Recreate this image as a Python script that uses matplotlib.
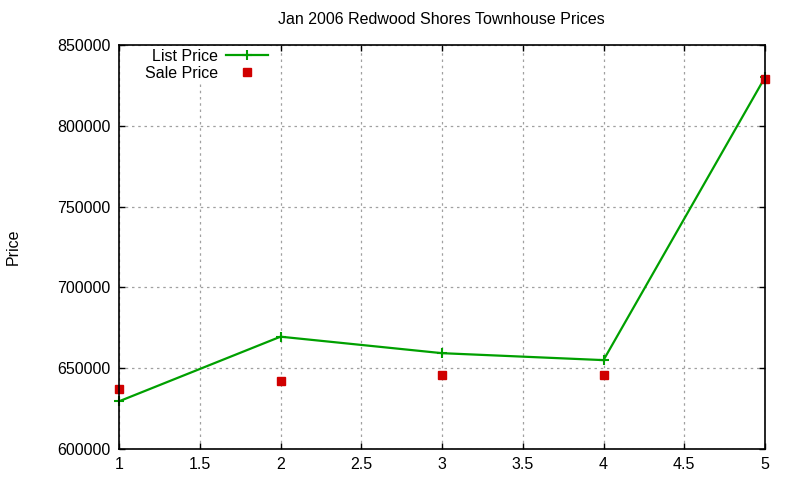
import matplotlib
matplotlib.use("Agg")
import matplotlib.pyplot as plt

x = [1, 2, 3, 4, 5]
list_price = [629500, 669500, 659300, 655000, 830000]
sale_price = [637000, 642000, 645500, 645500, 829000]
yticks = [600000, 650000, 700000, 750000, 800000, 850000]
xticks = [1, 1.5, 2, 2.5, 3, 3.5, 4, 4.5, 5]

plt.rcParams['font.family'] = ['Liberation Sans', 'DejaVu Sans']
FS = 11.5
plt.rcParams['font.size'] = FS

fig = plt.figure(figsize=(8, 4.8), dpi=100)
ax = fig.add_axes([119/800, 1-449/480, (765-119)/800, (449-45)/480])

ax.plot(x, list_price, color='#00a000', lw=1.6, marker='+', ms=7, mew=1.5,
        label='List Price', zorder=3, clip_on=False)
ax.plot(x, sale_price, color='#d00000', lw=0, marker='s', ms=6,
        label='Sale Price', zorder=4, clip_on=False)

ax.set_xlim(1, 5)
ax.set_ylim(600000, 850000)
ax.set_xticks(xticks)
ax.set_xticklabels([('%g' % v) for v in xticks])
ax.set_yticks(yticks)
ax.set_yticklabels([str(v) for v in yticks])
ax.tick_params(direction='in', length=4, width=1, top=True, right=True,
               labelsize=FS, pad=6)
ax.grid(True, color='#a0a0a0', linestyle=(0, (2, 3)), lw=0.9)
for s in ax.spines.values():
    s.set_linewidth(1.2)
    s.set_zorder(5)

fig.text(441/800, 1 - 20/480, 'Jan 2006 Redwood Shores Townhouse Prices',
         fontsize=FS, ha='center', va='center')
fig.text(13/800, 1 - 247/480, 'Price', fontsize=FS, rotation=90,
         ha='center', va='center')

leg = ax.legend(loc='upper left', bbox_to_anchor=(0.028, 1.01), frameon=True,
                markerfirst=False, handlelength=2.6, handletextpad=0.5,
                labelspacing=0.1, fontsize=FS, fancybox=False,
                borderpad=0.2, borderaxespad=0.3)
leg.get_frame().set_facecolor('white')
leg.get_frame().set_edgecolor('none')
leg.get_frame().set_alpha(1)
leg.set_zorder(2.5)

fig.savefig('out.png', dpi=100)
